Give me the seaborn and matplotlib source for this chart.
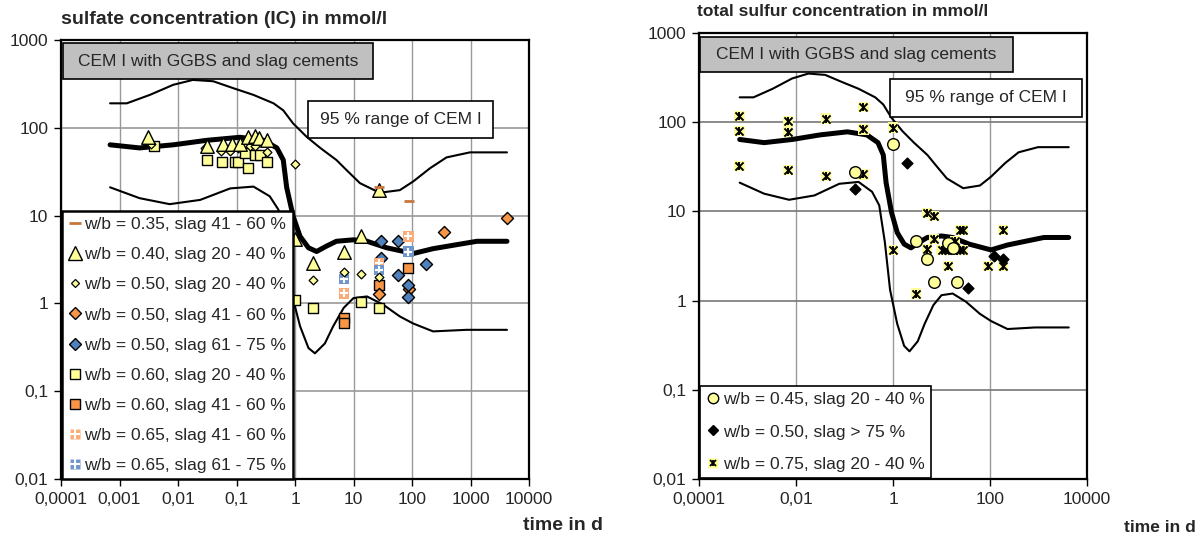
import numpy as np
import pandas as pd
import seaborn as sns, matplotlib.pyplot as plt
from matplotlib.lines import Line2D
from matplotlib.patches import Rectangle
from matplotlib.legend_handler import HandlerTuple
from matplotlib.ticker import FixedLocator, FixedFormatter

sns.set_style("ticks")
plt.rcParams['font.family'] = ['Liberation Sans', 'DejaVu Sans']

# 95 % range of CEM I (time in d, concentration in mmol/l)
upper_t = [0.00069, 0.00133, 0.0033, 0.0083, 0.018, 0.040, 0.089, 0.195, 0.43, 0.63, 0.93, 1.58,
           2.7, 5.1, 7.6, 12.9, 28, 62, 105, 204, 389, 977, 4200]
upper_c = [190, 190, 237, 309, 351, 339, 282, 237, 190, 158, 112, 79,
           59, 43, 33, 23.4, 18.2, 19.5, 24.5, 34.7, 46, 52.5, 52.5]
median_t = [0.00069, 0.0022, 0.0083, 0.031, 0.115, 0.29, 0.49, 0.63, 0.72, 0.93, 1.22, 1.7,
            2.34, 3.47, 5.1, 10, 17, 37, 105, 229, 513, 1290, 4200]
median_c = [64, 59, 64, 72, 78, 72, 59, 43, 21, 9.8, 5.8, 4.3,
            3.9, 4.5, 5.1, 5.3, 5.1, 4.3, 3.7, 4.2, 4.6, 5.1, 5.1]
lower_t = [0.00069, 0.0022, 0.0072, 0.024, 0.078, 0.195, 0.37, 0.52, 0.68, 0.87, 1.22, 1.7,
           2.19, 3.24, 4.5, 6.8, 10, 17, 32, 62, 105, 229, 851, 4200]
lower_c = [21, 15.8, 13.5, 15.1, 20.4, 21.4, 16.6, 11.7, 4.5, 1.32, 0.55, 0.31,
           0.27, 0.35, 0.55, 0.89, 1.15, 1.2, 0.97, 0.71, 0.59, 0.48, 0.5, 0.5]

# sulfate (IC) series
w035_s41_t = [27, 89]
w035_s41_c = [21, 14.8]
w040_s20_t = [0.0031, 0.031, 0.059, 0.083, 0.115, 0.158, 0.209, 0.245, 0.33, 1.0, 2.0, 6.9, 13.7, 27]
w040_s20_c = [79, 62, 66, 66, 66, 79, 80, 76, 72, 5.4, 2.9, 3.8, 5.9, 19.5]
w050_s20_t = [0.0034, 0.029, 0.054, 0.078, 0.107, 0.17, 0.21, 0.33, 1.0, 2.0, 6.9, 13.7, 27]
w050_s20_c = [66, 59, 54, 54, 59, 62, 62, 53, 39, 1.85, 2.3, 2.15, 2.0]
w050_s41_t = [27, 89, 350, 4200]
w050_s41_c = [1.28, 1.45, 6.5, 9.3]
w050_s61_t = [29, 58, 29, 58, 87, 87, 174]
w050_s61_c = [5.1, 5.1, 3.3, 2.1, 1.6, 1.19, 2.8]
w060_s20_t = [0.0039, 0.031, 0.056, 0.094, 0.107, 0.14, 0.16, 0.21, 0.25, 0.33, 1.0, 2.0, 13.7, 27]
w060_s20_c = [62, 43, 41, 41, 41, 51, 35, 49, 49, 41, 1.1, 0.88, 1.05, 0.88]
w060_s41_t = [6.9, 6.9, 27, 87]
w060_s41_c = [0.68, 0.6, 1.6, 2.5]
w065_s41_t = [6.9, 27, 87]
w065_s41_c = [1.3, 2.9, 5.8]
w065_s61_t = [6.9, 27, 87]
w065_s61_c = [1.9, 2.4, 3.9]

# total sulfur series
w045_s20_t = [0.166, 0.99, 3.0, 4.95, 7.1, 13.8, 17, 20.4]
w045_s20_c = [28, 57, 4.6, 2.9, 1.62, 4.4, 3.9, 1.62]
w050_s75_t = [0.166, 1.97, 36, 123, 186]
w050_s75_c = [18, 35, 1.38, 3.2, 2.9]
w075_s20_t = [0.00068, 0.00068, 0.00068, 0.0068, 0.0068, 0.0068, 0.042, 0.042, 0.245, 0.245, 0.245,
              0.99, 0.99, 3.0, 4.95, 7.1, 4.95, 7.1, 10, 11.7, 13.8, 17.5, 24, 28, 13.8, 19, 24, 28,
              92, 186, 186]
w075_s20_c = [117, 79, 32, 102, 78, 29, 110, 25, 147, 83, 26,
              87, 3.7, 1.2, 9.6, 8.9, 3.76, 4.9, 3.7, 3.7, 3.7, 3.7, 3.7, 3.7, 2.45, 4.6, 6.2, 6.2,
              2.45, 6.2, 2.45]

left_ticks = [1e-4, 1e-3, 1e-2, 1e-1, 1, 10, 100, 1000, 1e4]
left_labels = ["0,0001", "0,001", "0,01", "0,1", "1", "10", "100", "1000", "10000"]
right_ticks = [1e-4, 1e-2, 1, 100, 1e4]
right_labels = ["0,0001", "0,01", "1", "100", "10000"]
y_ticks = [0.01, 0.1, 1, 10, 100, 1000]
y_labels = ["0,01", "0,1", "1", "10", "100", "1000"]

yellow = "#FFFF99"
orange = "#F79646"
blue = "#4F81BD"
orange_lt = "#F9AC78"
blue_lt = "#6F96CA"
dash_col = "#C8763C"

fig = plt.figure(figsize=(12.04, 5.37), dpi=100)
ax1 = fig.add_axes([61/1204, 58/537, 468/1204, 439/537])
ax2 = fig.add_axes([699/1204, 58/537, 388/1204, 446/537])


def setup(ax, xt, xl, hcol):
    ax.set_xscale("log")
    ax.set_yscale("log")
    ax.set_xlim(1e-4, 1e4)
    ax.set_ylim(0.01, 1000)
    ax.xaxis.set_major_locator(FixedLocator(xt))
    ax.xaxis.set_major_formatter(FixedFormatter(xl))
    ax.yaxis.set_major_locator(FixedLocator(y_ticks))
    ax.yaxis.set_major_formatter(FixedFormatter(y_labels))
    ax.minorticks_off()
    ax.tick_params(labelsize=12.5, length=5, width=1, color="black", direction="out", pad=4)
    ax.xaxis.grid(True, color="#999999", lw=1)
    ax.yaxis.grid(True, color=hcol, lw=1.2)
    ax.set_axisbelow(True)
    for s in ax.spines.values():
        s.set_color("black")
        s.set_linewidth(1.6)
    ax.set_xlabel("")
    ax.set_ylabel("")


def curves(ax):
    for t, c, lw in [(upper_t, upper_c, 1.5), (lower_t, lower_c, 1.5), (median_t, median_c, 3.6)]:
        sns.lineplot(x=t, y=c, color="black", lw=lw, sort=False, estimator=None, ax=ax, zorder=2)


def boxes(ax, gray, white):
    x0, y0, x1, y1 = gray
    ax.add_patch(Rectangle((x0, y0), x1 - x0, y1 - y0, transform=ax.transAxes, fc="#C0C0C0",
                           ec="black", lw=1.2, zorder=6, clip_on=False))
    ax.text((x0 + x1) / 2, (y0 + y1) / 2, "CEM I with GGBS and slag cements", transform=ax.transAxes,
            ha="center", va="center", fontsize=12.5, zorder=7)
    x0, y0, x1, y1 = white
    ax.add_patch(Rectangle((x0, y0), x1 - x0, y1 - y0, transform=ax.transAxes, fc="white",
                           ec="black", lw=1.2, zorder=6, clip_on=False))
    ax.text((x0 + x1) / 2, (y0 + y1) / 2, "95 % range of CEM I", transform=ax.transAxes,
            ha="center", va="center", fontsize=12.5, zorder=7)


# ---- left: sulfate ----
curves(ax1)
sc = dict(ax=ax1, zorder=4, legend=False)
sns.scatterplot(x=w060_s20_t, y=w060_s20_c, marker="s", s=42, color=yellow, edgecolor="black", linewidth=1, **sc)
sns.scatterplot(x=w060_s41_t, y=w060_s41_c, marker="s", s=42, color=orange, edgecolor="black", linewidth=1, **sc)
sns.scatterplot(x=w050_s41_t, y=w050_s41_c, marker="D", s=38, color=orange, edgecolor="black", linewidth=1, **sc)
sns.scatterplot(x=w050_s61_t, y=w050_s61_c, marker="D", s=38, color=blue, edgecolor="black", linewidth=1, **sc)
sns.scatterplot(x=w065_s41_t, y=w065_s41_c, marker="s", s=55, color=orange_lt, edgecolor="none", **sc)
sns.scatterplot(x=w065_s41_t, y=w065_s41_c, marker="+", s=40, color="white", linewidth=1.5, **sc)
sns.scatterplot(x=w065_s61_t, y=w065_s61_c, marker="s", s=55, color=blue_lt, edgecolor="none", **sc)
sns.scatterplot(x=w065_s61_t, y=w065_s61_c, marker="+", s=40, color="white", linewidth=1.5, **sc)
sns.scatterplot(x=w050_s20_t, y=w050_s20_c, marker="D", s=20, color=yellow, edgecolor="black", linewidth=0.9, **sc)
sns.scatterplot(x=w040_s20_t, y=w040_s20_c, marker="^", s=95, color=yellow, edgecolor="black", linewidth=1, **sc)
sns.scatterplot(x=w035_s41_t, y=w035_s41_c, marker="_", s=60, color=dash_col, linewidth=2, **sc)
setup(ax1, left_ticks, left_labels, "#999999")
boxes(ax1, (0.004, 0.911, 0.667, 0.993), (0.528, 0.777, 0.923, 0.861))


def mk(marker, fc, ec="black", ms=8, mew=1):
    return Line2D([], [], ls="none", marker=marker, markerfacecolor=fc, markeredgecolor=ec,
                  markersize=ms, markeredgewidth=mew)


h1 = [mk("_", dash_col, dash_col, 8, 2),
      mk("^", yellow, ms=10),
      mk("D", yellow, ms=4.5, mew=0.9),
      mk("D", orange, ms=6),
      mk("D", blue, ms=6),
      mk("s", yellow, ms=6.5),
      mk("s", orange, ms=6.5),
      (mk("s", orange_lt, "none", 7.5), mk("+", "white", "white", 6.5, 1.5)),
      (mk("s", blue_lt, "none", 7.5), mk("+", "white", "white", 6.5, 1.5))]
l1 = ["w/b = 0.35, slag 41 - 60 %", "w/b = 0.40, slag 20 - 40 %", "w/b = 0.50, slag 20 - 40 %",
      "w/b = 0.50, slag 41 - 60 %", "w/b = 0.50, slag 61 - 75 %", "w/b = 0.60, slag 20 - 40 %",
      "w/b = 0.60, slag 41 - 60 %", "w/b = 0.65, slag 41 - 60 %", "w/b = 0.65, slag 61 - 75 %"]
leg1 = ax1.legend(h1, l1, loc="lower left", bbox_to_anchor=(0.002, 0.0), fontsize=12.5,
                  frameon=True, fancybox=False, edgecolor="black", framealpha=1,
                  borderaxespad=0, handlelength=0.8, handletextpad=0.15, labelspacing=0.86,
                  borderpad=0.35, handler_map={tuple: HandlerTuple(ndivide=1, pad=0)})
leg1.get_frame().set_linewidth(1.8)
leg1.set_zorder(8)

# ---- right: total sulfur ----
curves(ax2)
sc = dict(ax=ax2, zorder=4, legend=False)
sns.scatterplot(x=w075_s20_t, y=w075_s20_c, marker="s", s=55, color=yellow, edgecolor="none", **sc)
sns.scatterplot(x=w075_s20_t, y=w075_s20_c, marker="x", s=34, color="black", linewidth=1.4, **sc)
sns.scatterplot(x=w075_s20_t, y=w075_s20_c, marker="|", s=34, color="black", linewidth=1.4, **sc)
sns.scatterplot(x=w045_s20_t, y=w045_s20_c, marker="o", s=70, color=yellow, edgecolor="black", linewidth=1, **sc)
sns.scatterplot(x=w050_s75_t, y=w050_s75_c, marker="D", s=30, color="black", edgecolor="black", linewidth=1, **sc)
setup(ax2, right_ticks, right_labels, "#777777")
boxes(ax2, (0.003, 0.913, 0.809, 0.991), (0.492, 0.812, 0.987, 0.897))

h2 = [mk("o", yellow, ms=7.5),
      mk("D", "black", ms=5),
      (mk("s", yellow, "none", 6.5), mk("x", "black", "black", 5, 1.3), mk("|", "black", "black", 5, 1.3))]
l2 = ["w/b = 0.45, slag 20 - 40 %", "w/b = 0.50, slag > 75 %", "w/b = 0.75, slag 20 - 40 %"]
leg2 = ax2.legend(h2, l2, loc="lower left", bbox_to_anchor=(0.003, 0.002), fontsize=12.5,
                  frameon=True, fancybox=False, edgecolor="black", framealpha=1,
                  borderaxespad=0, handlelength=0.8, handletextpad=0.15, labelspacing=1.0,
                  borderpad=0.35, handler_map={tuple: HandlerTuple(ndivide=1, pad=0)})
leg2.get_frame().set_linewidth(1.2)
leg2.set_zorder(8)

fig.text(61/1204, 1 - 20/537, "sulfate concentration (IC) in mmol/l", ha="left", va="center",
         fontsize=14, weight="bold")
fig.text(697/1204, 1 - 12/537, "total sulfur concentration in mmol/l", ha="left", va="center",
         fontsize=12.5, weight="bold")
fig.text(563/1204, 1 - 525/537, "time in d", ha="center", va="center", fontsize=14, weight="bold")
fig.text(1160/1204, 1 - 527/537, "time in d", ha="center", va="center", fontsize=12.5, weight="bold")

plt.savefig("out.png", dpi=100)
